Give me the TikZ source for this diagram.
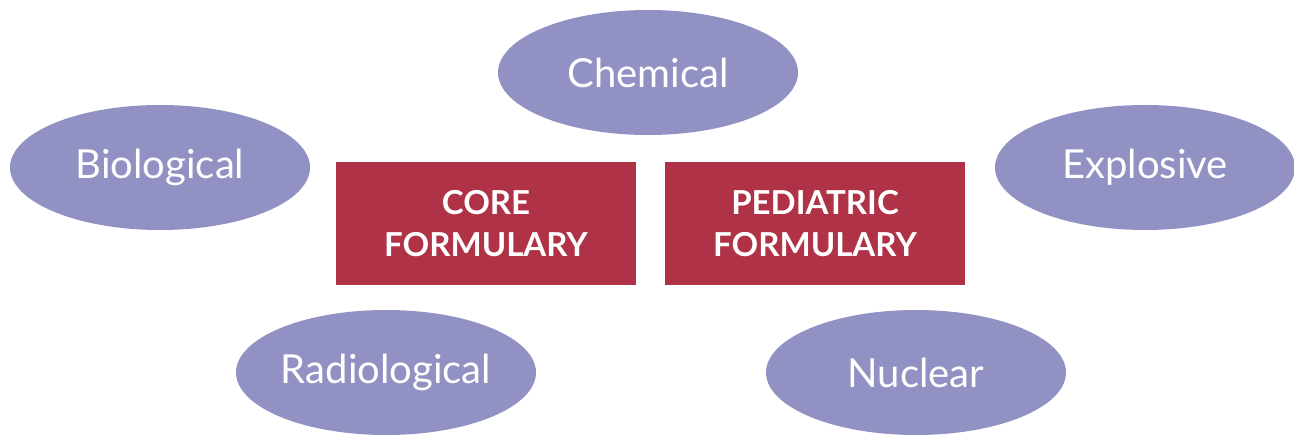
\documentclass[tikz,border=0pt]{standalone}
\usepackage{fontspec}
\setmainfont{Lato}
\usetikzlibrary{shapes.geometric}
\definecolor{ellcol}{HTML}{9191C3}
\definecolor{boxcol}{HTML}{B03247}
\begin{document}
\begin{tikzpicture}[x=1pt,y=-1pt,
  threat/.style={ellipse,fill=ellcol,draw=none,minimum width=300pt,minimum height=125pt,inner sep=0pt,text=white,font=\fontsize{40}{44}\selectfont},
  formbox/.style={rectangle,fill=boxcol,draw=none,minimum width=300pt,minimum height=123pt,inner sep=0pt,text=white,align=center,font=\fontsize{33}{42}\selectfont\bfseries}]
\useasboundingbox (0,0) rectangle (1294,435);
\node[threat] (chem) at (648,72.5) {Chemical};
\node[threat] (bio) at (160,167.5) {Biological};
\node[threat] (expl) at (1145,167.5) {Explosive};
\node[threat] (rad) at (386,372.5) {Radiological};
\node[threat] (nuc) at (916,372.5) {Nuclear};
\node[formbox] (core) at (486,223.5) {CORE\\FORMULARY};
\node[formbox] (ped) at (815,223.5) {PEDIATRIC\\FORMULARY};
\end{tikzpicture}
\end{document}
